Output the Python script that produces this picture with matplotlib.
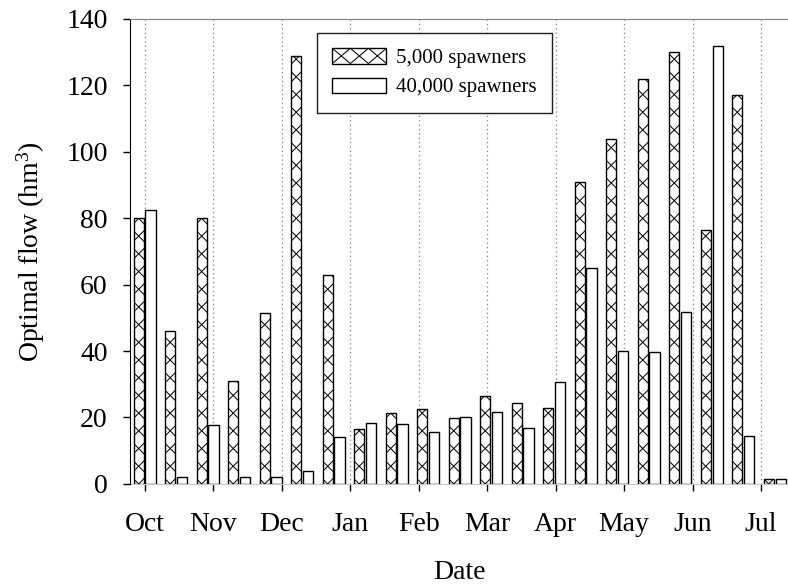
import numpy as np
import matplotlib.pyplot as plt
import matplotlib.transforms as mtransforms
from matplotlib.collections import LineCollection
from matplotlib.patches import Patch, Rectangle
from matplotlib.legend_handler import HandlerBase

plt.rcParams['font.family'] = ['Liberation Serif', 'DejaVu Serif']
plt.rcParams['mathtext.fontset'] = 'custom'
plt.rcParams['mathtext.rm'] = 'Liberation Serif'
plt.rcParams['mathtext.it'] = 'Liberation Serif:italic'

months = ['Oct', 'Nov', 'Dec', 'Jan', 'Feb', 'Mar', 'Apr', 'May', 'Jun', 'Jul']

# Optimal flow (hm3) for each two-week period.
flow_5000 = [80.0, 46.0, 80.0, 31.0, 51.5, 128.7, 63.0, 16.5, 21.5, 22.5, 19.8,
             26.6, 24.5, 23.0, 90.8, 103.9, 121.8, 130.0, 76.4, 117.2, 1.5]
flow_40000 = [82.6, 2.2, 17.8, 2.2, 2.0, 4.0, 14.0, 18.3, 18.0, 15.7, 20.0,
              21.6, 16.7, 30.6, 65.0, 40.0, 39.6, 51.7, 132.0, 14.3, 1.5]

# x axis is in days from the start of October
period_days = 14
days = np.arange(len(flow_5000)) * period_days
month_days = np.arange(len(months)) * 365.25 / 12
bar_w = 4.6
shift = 2.65


class HandlerCross(HandlerBase):
    # legend box with three crosses, like the bar pattern
    def create_artists(self, legend, orig_handle, xdescent, ydescent,
                       width, height, fontsize, trans):
        x0, y0 = -xdescent, -ydescent
        rect = Rectangle((x0, y0), width, height, facecolor='white',
                         edgecolor='black', linewidth=1.0, transform=trans)
        xs = np.linspace(x0, x0 + width, 4)
        segs = []
        for a, b in zip(xs[:-1], xs[1:]):
            segs.append([(a, y0), (b, y0 + height)])
            segs.append([(a, y0 + height), (b, y0)])
        lc = LineCollection(segs, colors='black', linewidths=0.75, transform=trans)
        return [rect, lc]


fig = plt.figure(figsize=(7.88, 5.88), dpi=100)
ax = fig.add_axes([0.165, 0.177, 0.835, 0.7908])

bars5 = ax.bar(days - shift, flow_5000, width=bar_w, color='white',
               edgecolor='black', linewidth=1.0, zorder=3)
bars40 = ax.bar(days + shift, flow_40000, width=bar_w, color='white',
                edgecolor='black', linewidth=1.0, zorder=3)

# cross hatch centred on each bar (matplotlib's own hatch is anchored to the
# canvas, so the pattern would drift from bar to bar)
p = 0.177      # hatch period, inches
hw = 0.07      # half length of each segment, inches (clipped by the bar)
segs = []
for k in range(-1, 45):
    segs.append([(-hw, k * p - hw), (hw, k * p + hw)])
    segs.append([(-hw, k * p + hw), (hw, k * p - hw)])
for rect in bars5:
    xc = rect.get_x() + rect.get_width() / 2
    trans = fig.dpi_scale_trans + mtransforms.ScaledTranslation(xc, 0, ax.transData)
    lc = LineCollection(segs, colors='black', linewidths=0.72, transform=trans,
                        zorder=3.2)
    ax.add_collection(lc, autolim=False)
    lc.set_clip_path(rect)

for d in month_days:
    ax.axvline(d, color='#808080', linestyle=(0, (1, 2.5)), linewidth=0.9, zorder=1)

ax.set_xlim(-6.5, 285.9)
ax.set_ylim(0, 140)
ax.set_yticks(np.arange(0, 141, 20))
ax.set_xticks(month_days)
ax.set_xticklabels(months)

ax.tick_params(axis='both', direction='out', length=5, width=1, colors='black',
               labelsize=20)
ax.tick_params(axis='x', pad=15)
ax.tick_params(axis='y', pad=11)

ax.spines['right'].set_visible(False)
ax.spines['left'].set_color('black')
ax.spines['top'].set_color('#808080')
ax.spines['bottom'].set_color('#c8c8c8')
ax.spines['bottom'].set_zorder(2)

ax.set_xlabel('Date', fontsize=20, labelpad=17)
ax.set_ylabel('Optimal flow (hm$^{3}$)', fontsize=20, labelpad=14)

h5 = Patch(facecolor='white', edgecolor='black')
h40 = Patch(facecolor='white', edgecolor='black', linewidth=1.0)
leg = ax.legend([h5, h40], ['5,000 spawners', '40,000 spawners'],
                handler_map={h5: HandlerCross()},
                loc='upper left', bbox_to_anchor=(0.2837, 0.9705),
                borderaxespad=0, fancybox=False, framealpha=1,
                edgecolor='#202020', fontsize=15, handlelength=2.6,
                handleheight=0.75, handletextpad=0.45, labelspacing=0.45,
                borderpad=0.75)
leg.get_frame().set_linewidth(1.0)

fig.savefig('out.png', dpi=100)
